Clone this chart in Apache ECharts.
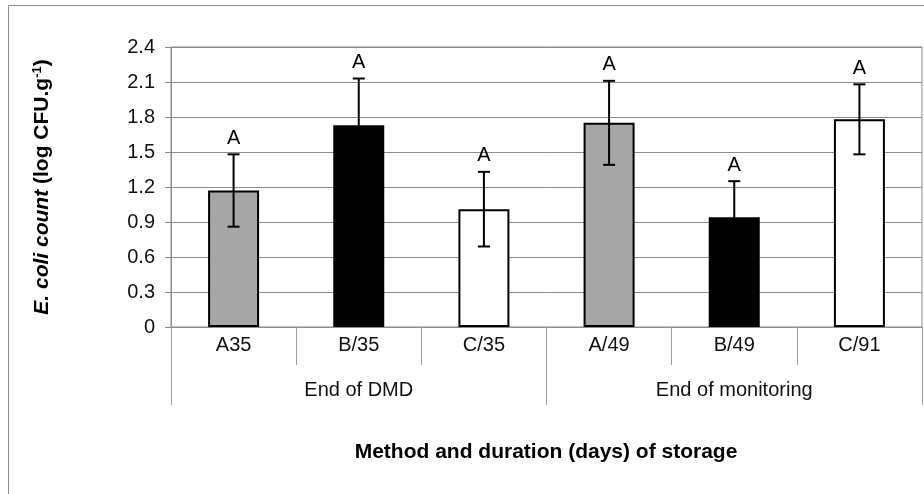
<!DOCTYPE html>
<html><head><meta charset="utf-8">
<script src="https://cdn.jsdelivr.net/npm/echarts@6/dist/echarts.min.js"></script>
<style>html,body{margin:0;padding:0;background:#fff}#c{width:924px;height:494px}</style>
</head><body><div id="c"></div>
<script>
const categories = ['A35','B/35','C/35','A/49','B/49','C/91'];
const groups = ['End of DMD','End of monitoring'];
const means = [1.17, 1.73, 1.01, 1.75, 0.94, 1.78];
const sds = [0.31, 0.40, 0.32, 0.36, 0.31, 0.30];
const letters = ['A','A','A','A','A','A'];
const yTicks = [0, 0.3, 0.6, 0.9, 1.2, 1.5, 1.8, 2.1, 2.4];
const barColors = ['#a6a6a6','#000000','#ffffff','#a6a6a6','#000000','#ffffff'];

const FONT = '"Liberation Sans", Arial, sans-serif';
const chart = echarts.init(document.getElementById('c'));
chart.setOption({
  animation: false,
  backgroundColor: '#fff',
  graphic: [
    {type:'rect', shape:{x:8.5,y:5.5,width:960,height:560}, style:{fill:'none',stroke:'#8c8c8c',lineWidth:1}, z:-10},
    {type:'text', x:546, y:452, style:{text:'Method and duration (days) of storage', font:'bold 21px '+FONT, fill:'#000', textAlign:'center', textVerticalAlign:'middle'}}
  ],
  grid: {left:171, right:2, top:47, bottom:167, show:true, borderColor:'#8c8c8c', borderWidth:1},
  xAxis: [
    {type:'category', data:categories, gridIndex:0, position:'bottom',
     axisLine:{lineStyle:{color:'#8c8c8c',width:1}},
     axisTick:{show:true, interval:0, length:38, lineStyle:{color:'#a0a0a0'}},
     axisLabel:{interval:0, margin:8, fontFamily:FONT, fontSize:20, color:'#111'}},
    {type:'category', data:groups, gridIndex:0, position:'bottom',
     axisLine:{show:false},
     axisTick:{show:true, interval:0, length:78, lineStyle:{color:'#a0a0a0'}},
     axisLabel:{interval:0, margin:53, fontFamily:FONT, fontSize:20, color:'#111'}}
  ],
  yAxis: {type:'value', min:0, max:2.4, interval:0.3,
    name:'{i|E. coli count }{b|(log CFU.g}{s|-1}{b|)}',
    nameLocation:'middle', nameGap:117, nameRotate:90,
    nameTextStyle:{rich:{
      i:{fontFamily:FONT, fontSize:21, fontWeight:'bold', fontStyle:'italic', color:'#000'},
      b:{fontFamily:FONT, fontSize:21, fontWeight:'bold', color:'#000'},
      s:{fontFamily:FONT, fontSize:13, fontWeight:'bold', color:'#000', verticalAlign:'top', padding:[0,0,10,0]}
    }},
    axisLine:{show:true, lineStyle:{color:'#8c8c8c'}},
    axisTick:{show:true, length:6, lineStyle:{color:'#8c8c8c'}},
    splitLine:{lineStyle:{color:'#8c8c8c', width:1}},
    axisLabel:{margin:16, fontFamily:FONT, fontSize:20, color:'#111',
      formatter:v=>{const t=yTicks.find(x=>Math.abs(x-v)<1e-9); return t===0?'0':(t!==undefined?t.toFixed(1):'');}}
  },
  series: [
    {type:'bar', xAxisIndex:0, barWidth:51,
     data: means.map((m,i)=>({value:m, itemStyle:{color:barColors[i], borderColor:'#000', borderWidth:2}}))},
    {type:'custom', xAxisIndex:0, z:5,
     data: means.map((m,i)=>[i, m, sds[i], letters[i]]),
     renderItem:(params, api)=>{
       const x = api.coord([api.value(0), 0])[0];
       const m = api.value(1), s = api.value(2);
       const top = api.coord([api.value(0), m+s])[1];
       const bot = api.coord([api.value(0), m-s])[1];
       const lw = 2, cw = 6;
       return {type:'group', children:[
         {type:'line', shape:{x1:x,y1:top,x2:x,y2:bot}, style:{stroke:'#000',lineWidth:lw}},
         {type:'line', shape:{x1:x-cw,y1:top,x2:x+cw,y2:top}, style:{stroke:'#000',lineWidth:lw}},
         {type:'line', shape:{x1:x-cw,y1:bot,x2:x+cw,y2:bot}, style:{stroke:'#000',lineWidth:lw}},
         {type:'text', x:x, y:top-6, style:{text:letters[params.dataIndex], font:'20px '+FONT, fill:'#000', textAlign:'center', textVerticalAlign:'bottom'}}
       ]};
     }}
  ]
});
</script></body></html>
